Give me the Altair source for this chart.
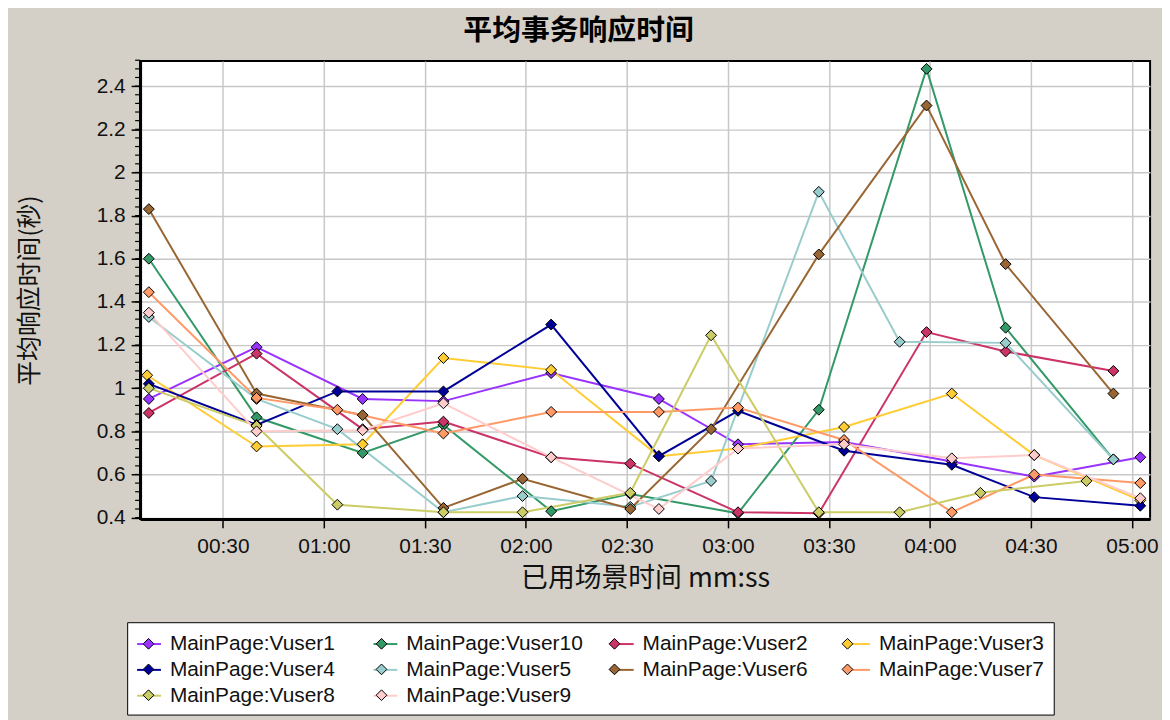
import altair as alt
import pandas as pd

# ---------------- data ----------------
series_names = ["MainPage:Vuser1", "MainPage:Vuser10", "MainPage:Vuser2", "MainPage:Vuser3",
                "MainPage:Vuser4", "MainPage:Vuser5", "MainPage:Vuser6", "MainPage:Vuser7",
                "MainPage:Vuser8", "MainPage:Vuser9"]
series_colors = ["#9933ff", "#339966", "#cc3366", "#ffcc33", "#000099",
                 "#99cccc", "#996633", "#ff9966", "#cccc66", "#ffcccc"]

# elapsed time in seconds, average response time in seconds
vuser1_t = [8, 40, 71.5, 95.5, 127.5, 159.5, 183, 214.5, 246.5, 271, 302.5]
vuser1_v = [0.95, 1.19, 0.95, 0.94, 1.07, 0.95, 0.74, 0.75, 0.66, 0.59, 0.68]

vuser10_t = [8, 40, 71.5, 95.5, 127.5, 151, 183, 207, 239, 262.5, 294.5]
vuser10_v = [1.60, 0.865, 0.70, 0.83, 0.43, 0.51, 0.42, 0.90, 2.48, 1.28, 0.67]

vuser2_t = [8, 40, 71.5, 95.5, 127.5, 151, 183, 207, 239, 262.5, 294.5]
vuser2_v = [0.885, 1.16, 0.81, 0.845, 0.68, 0.65, 0.425, 0.42, 1.26, 1.17, 1.08]

vuser3_t = [7.5, 40, 71.5, 95.5, 127.5, 159.5, 183, 214.5, 246.5, 271, 302.5]
vuser3_v = [1.06, 0.73, 0.74, 1.14, 1.085, 0.685, 0.72, 0.82, 0.975, 0.69, 0.48]

vuser4_t = [8, 40, 64, 95.5, 127.5, 159.5, 183, 214.5, 246.5, 271, 302.5]
vuser4_v = [1.02, 0.83, 0.985, 0.985, 1.295, 0.685, 0.895, 0.71, 0.645, 0.495, 0.455]

vuser5_t = [8, 40, 64, 95.5, 119, 151, 175, 207, 231, 262.5, 294.5]
vuser5_v = [1.33, 0.95, 0.81, 0.425, 0.50, 0.45, 0.57, 1.91, 1.215, 1.21, 0.67]

vuser6_t = [8, 40, 71.5, 95.5, 119, 151, 175, 207, 239, 262.5, 294.5]
vuser6_v = [1.83, 0.975, 0.875, 0.445, 0.58, 0.44, 0.81, 1.62, 2.31, 1.575, 0.975]

vuser7_t = [8, 40, 64, 95.5, 127.5, 159.5, 183, 214.5, 246.5, 271, 302.5]
vuser7_v = [1.445, 0.955, 0.90, 0.79, 0.89, 0.89, 0.91, 0.76, 0.425, 0.60, 0.56]

vuser8_t = [8, 40, 64, 95.5, 119, 151, 175, 207, 231, 255, 286.5]
vuser8_v = [1.00, 0.825, 0.46, 0.425, 0.425, 0.515, 1.245, 0.425, 0.425, 0.515, 0.57]

vuser9_t = [8, 40, 71.5, 95.5, 127.5, 159.5, 183, 214.5, 246.5, 271, 302.5]
vuser9_v = [1.35, 0.80, 0.805, 0.93, 0.68, 0.44, 0.72, 0.74, 0.675, 0.69, 0.49]

x_tick_values = [30, 60, 90, 120, 150, 180, 210, 240, 270, 300]
y_tick_values = [0.4, 0.6, 0.8, 1.0, 1.2, 1.4, 1.6, 1.8, 2.0, 2.2, 2.4]
y_minor_values = [round(0.4 + 0.04 * i, 2) for i in range(54)]

# ---------------- build table ----------------
series_data = {
    "MainPage:Vuser1": (vuser1_t, vuser1_v),
    "MainPage:Vuser10": (vuser10_t, vuser10_v),
    "MainPage:Vuser2": (vuser2_t, vuser2_v),
    "MainPage:Vuser3": (vuser3_t, vuser3_v),
    "MainPage:Vuser4": (vuser4_t, vuser4_v),
    "MainPage:Vuser5": (vuser5_t, vuser5_v),
    "MainPage:Vuser6": (vuser6_t, vuser6_v),
    "MainPage:Vuser7": (vuser7_t, vuser7_v),
    "MainPage:Vuser8": (vuser8_t, vuser8_v),
    "MainPage:Vuser9": (vuser9_t, vuser9_v),
}
rows = []
for name in series_names:
    ts, vs = series_data[name]
    for t, v in zip(ts, vs):
        rows.append({"series": name, "t": t, "v": v})
df = pd.DataFrame(rows)
minor_df = pd.DataFrame({"v": y_minor_values})

X_DOMAIN = [5.4, 305.4]
Y_DOMAIN = [0.394, 2.516]

x_scale = alt.Scale(domain=X_DOMAIN, nice=False, zero=False)
y_scale = alt.Scale(domain=Y_DOMAIN, nice=False, zero=False)

LEG_X, LEG_Y = -13, 565
common_legend = dict(orient="none", legendX=LEG_X, legendY=LEG_Y,
                     direction="horizontal", columns=4, title=None,
                     symbolSize=576, labelFont="Liberation Sans", labelFontSize=21,
                     labelColor="#111111", labelLimit=400,
                     rowPadding=3, padding=9, gridAlign="all",
                     values=series_names)

x_axis = alt.Axis(values=x_tick_values,
                  labelExpr="utcFormat(datum.value*1000, '%M:%S')",
                  title="已用场景时间 mm:ss",
                  titleFont="Noto Sans CJK SC", titleFontSize=27, titleFontWeight="normal",
                  titleColor="#111111", titlePadding=9,
                  labelFont="Liberation Sans", labelFontSize=21, labelColor="#111111",
                  labelPadding=8, tickSize=9, tickWidth=1.5, tickColor="black",
                  domainColor="black", domainWidth=3,
                  grid=True, gridColor="#c8c8c8", gridWidth=1.5, labelFlush=False)

y_axis = alt.Axis(values=y_tick_values, format=".1~f", orient="left",
                  title="平均响应时间(秒)",
                  titleFont="Noto Sans CJK SC", titleFontSize=25, titleFontWeight="normal",
                  titleColor="#111111", titlePadding=54,
                  labelFont="Liberation Sans", labelFontSize=21, labelColor="#111111",
                  labelPadding=6, tickSize=9, tickWidth=1.5, tickColor="black",
                  domainColor="black", domainWidth=3,
                  grid=True, gridColor="#c8c8c8", gridWidth=1.5, labelFlush=False)

# legend 1: coloured line segment + label, inside the white box
lines = alt.Chart(df).mark_line(strokeWidth=2).encode(
    x=alt.X("t:Q", scale=x_scale, axis=x_axis),
    y=alt.Y("v:Q", scale=y_scale, axis=y_axis),
    stroke=alt.Stroke("series:N",
                      scale=alt.Scale(domain=series_names, range=series_colors),
                      legend=alt.Legend(symbolType="M-1,0L1,0", symbolStrokeWidth=2,
                                        fillColor="white", strokeColor="black",
                                        labelOffset=8, columnPadding=23,
                                        zindex=0, **common_legend)),
)

# fill scale gets one unused extra domain entry so that its legend stays separate;
# legend 2 only draws the diamonds on top of legend 1's line segments
fill_domain = series_names + ["~"]
fill_range = series_colors + ["#ffffff"]

points = alt.Chart(df).mark_point(shape="diamond", filled=True, size=120,
                                  stroke="black", strokeWidth=1, opacity=1).encode(
    x=alt.X("t:Q", scale=x_scale),
    y=alt.Y("v:Q", scale=y_scale),
    fill=alt.Fill("series:N",
                  scale=alt.Scale(domain=fill_domain, range=fill_range),
                  legend=alt.Legend(symbolType="M0,-0.45L0.45,0L0,0.45L-0.45,0Z",
                                    symbolStrokeColor="black", symbolStrokeWidth=1,
                                    symbolOpacity=1, labelExpr="''",
                                    labelOffset=0, columnPadding=209.6,
                                    zindex=1, **common_legend)),
)

minor_ticks = alt.Chart(minor_df).mark_rule(color="black", strokeWidth=1.2).encode(
    y=alt.Y("v:Q", scale=y_scale),
    x=alt.value(-5),
    x2=alt.value(0),
)

chart = alt.layer(lines, points, minor_ticks).properties(
    width=1017,
    height=461,
    autosize=alt.AutoSizeParams(type="none"),
    padding={"left": 133, "top": 51, "right": 12, "bottom": 200},
    background="#d4d0c8",
    title=alt.TitleParams("平均事务响应时间", font="Noto Sans CJK SC", fontSize=29,
                          fontWeight="bold", color="black", anchor="middle",
                          dx=-67, offset=14),
).configure_view(fill="white", stroke="black", strokeWidth=2)

chart.save("out.html", embed_options={"renderer": "svg", "actions": False})
